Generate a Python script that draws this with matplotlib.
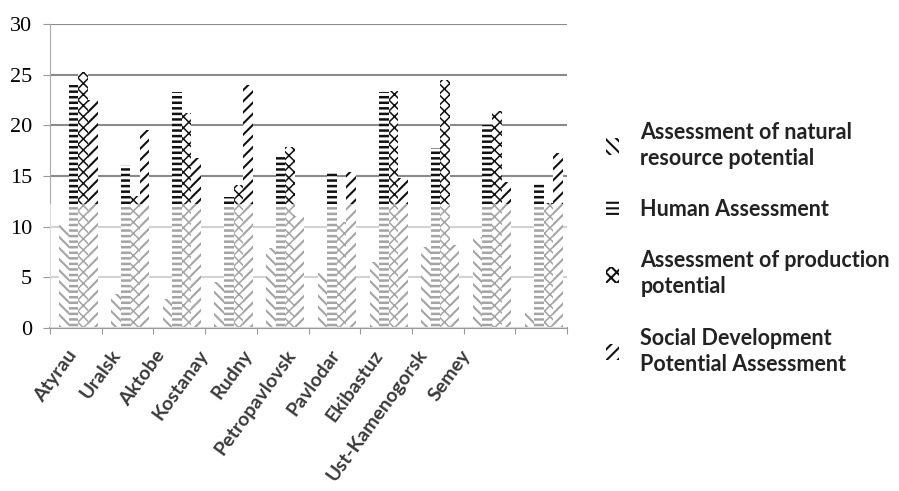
import numpy as np
import matplotlib
matplotlib.use('Agg')
from matplotlib import pyplot as plt
from matplotlib.patches import Patch

cities = ['Atyrau', 'Uralsk', 'Aktobe', 'Kostanay', 'Rudny', 'Petropavlovsk',
          'Pavlodar', 'Ekibastuz', 'Ust-Kamenogorsk', 'Semey']

natural = [10.2, 3.4, 2.9, 4.5, 7.9, 5.4, 6.5, 8.0, 9.0, 1.5]
human = [24.0, 16.1, 23.3, 12.9, 16.9, 15.3, 23.3, 17.8, 20.0, 14.4]
production = [25.3, 13.0, 21.2, 14.1, 17.9, 10.5, 23.4, 24.5, 21.4, 12.3]
social = [22.5, 19.5, 16.8, 24.0, 11.1, 15.4, 14.8, 8.2, 14.4, 17.3]

series_labels = ['Assessment of natural\nresource potential',
                 'Human Assessment',
                 'Assessment of production\npotential',
                 'Social Development\nPotential Assessment']
y_ticks = [0, 5, 10, 15, 20, 25, 30]

fig = plt.figure(figsize=(8.99, 4.91), dpi=100)
ax = fig.add_axes([50/899, 1-328/491, 517/899, 304/491])

# bars, one hatch per series
x = np.arange(len(cities)) + 0.55
w = 0.185
hatches = ['\\\\\\', '---', 'xxx', '///']
hatch_lw = [1.5, 1.8, 1.1, 1.5]
handles = []
for k, vals in enumerate([natural, human, production, social]):
    plt.rcParams['hatch.linewidth'] = hatch_lw[k]
    ax.bar(x + (k - 1.5) * w, vals, w, color='white', edgecolor='#111111',
           linewidth=0, hatch=hatches[k], zorder=2)
    handles.append(Patch(facecolor='white', edgecolor='#111111', linewidth=0,
                         hatch=hatches[k]))

# faded lower band
ax.axhspan(0, 12.2, color='white', alpha=0.62, lw=0, zorder=3)

ax.set_xlim(0, len(cities))
ax.set_ylim(0, 30)
ax.set_yticks(y_ticks)
ax.set_yticklabels([str(t) for t in y_ticks], family='Liberation Serif', fontsize=16)
ax.yaxis.grid(True, color='#8a8a8a', linewidth=1.5, zorder=0)
ax.set_axisbelow(True)
ax.tick_params(axis='y', length=5, color='#999999', pad=8)
ax.set_xticks(np.arange(len(cities) + 1))
ax.set_xticklabels([])
ax.tick_params(axis='x', length=4, color='#999999')
for s in ['top', 'right']:
    ax.spines[s].set_visible(False)
ax.spines['left'].set_color('#aaaaaa')
ax.spines['bottom'].set_color('#999999')
ax.spines['bottom'].set_linewidth(1.5)

# city names on their own narrower axis
lab = fig.add_axes([45/899, 1-330/491, 437/899, 0.001])
lab.set_xlim(0, len(cities))
lab.set_xticks(np.arange(len(cities)) + 0.5)
lab.set_xticklabels(cities, rotation=54, ha='right', va='top', rotation_mode='anchor',
                    family='Lato', fontweight='bold', fontsize=14, color='#3a3a3a')
lab.tick_params(axis='x', length=0, pad=12)
lab.set_yticks([])
for s in lab.spines.values():
    s.set_visible(False)
lab.patch.set_alpha(0)

leg = fig.legend(handles, series_labels, loc='upper left',
                 bbox_to_anchor=(606/899, 1-122/491), frameon=False,
                 prop={'family': 'Lato', 'weight': 'bold', 'size': 15.5},
                 handlelength=0.6, handleheight=0.8, handletextpad=1.0,
                 labelspacing=1.4, borderpad=0, borderaxespad=0)
for t in leg.get_texts():
    t.set_color('#222222')
    t.set_linespacing(1.3)

fig.savefig('out.png', dpi=100)
